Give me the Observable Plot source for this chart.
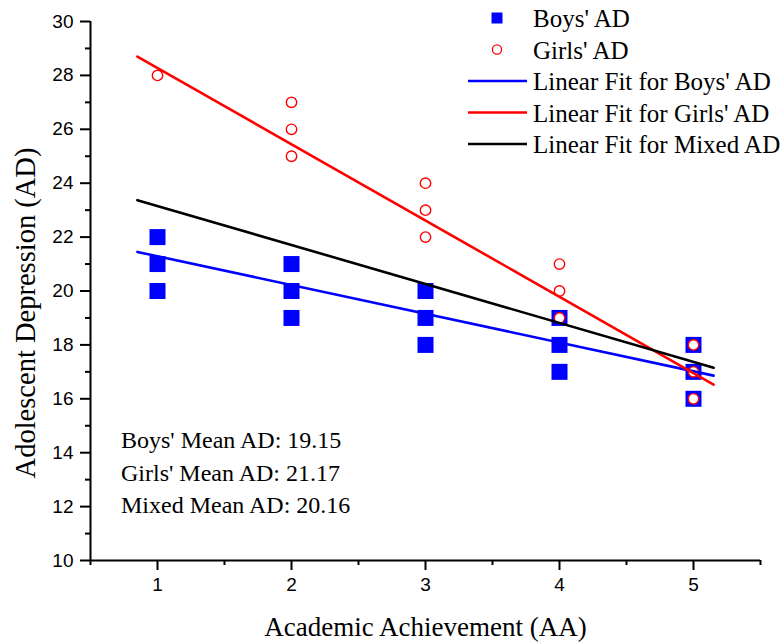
<!DOCTYPE html>
<html><head><meta charset="utf-8">
<script src="https://cdn.jsdelivr.net/npm/d3@7"></script>
<script src="https://cdn.jsdelivr.net/npm/@observablehq/plot@0.6"></script>
<style>html,body{margin:0;padding:0;background:#fff;} svg{display:block}</style>
</head><body><div id="chart"></div>
<script>
// ---- data ----
const boysX  = [1, 1, 1, 2, 2, 2, 3, 3, 3, 4, 4, 4, 5, 5, 5];
const boysAD = [22, 21, 20, 21, 20, 19, 20, 19, 18, 19, 18, 17, 18, 17, 16];
const girlsX  = [1, 2, 2, 2, 3, 3, 3, 4, 4, 4, 5, 5, 5];
const girlsAD = [28, 27, 26, 25, 24, 23, 22, 21, 20, 19, 18, 17, 16];
const fitX     = [0.85, 5.15];
const boysFit  = [21.45, 16.86];
const girlsFit = [28.70, 16.53];
const mixedFit = [23.37, 17.15];
const xTicks = [1, 2, 3, 4, 5];
const xMinor = [0.5, 1.5, 2.5, 3.5, 4.5, 5.5];
const yTicks = [10, 12, 14, 16, 18, 20, 22, 24, 26, 28, 30];
const yMinor = [11, 13, 15, 17, 19, 21, 23, 25, 27, 29];
const xTitle = "Academic Achievement (AA)";
const yTitle = "Adolescent Depression (AD)";
const legendLabels = ["Boys' AD", "Girls' AD", "Linear Fit for Boys' AD", "Linear Fit for Girls' AD", "Linear Fit for Mixed AD"];
const meanLabels = ["Boys' Mean AD: 19.15", "Girls' Mean AD: 21.17", "Mixed Mean AD: 20.16"];

const BLUE = "#0000ff", RED = "#ff0000";
const SERIF = "'Liberation Serif', 'Times New Roman', serif";
const SANS = "'Liberation Sans', Arial, sans-serif";

const boys = boysX.map((x, i) => ({x, y: boysAD[i]}));
const girls = girlsX.map((x, i) => ({x, y: girlsAD[i]}));
const fit = (arr) => fitX.map((x, i) => ({x, y: arr[i]}));

const W = 782, H = 644, mL = 90, mR = 22, mT = 21, mB = 84;

const chart = Plot.plot({
  width: W, height: H,
  marginLeft: mL, marginRight: mR, marginTop: mT, marginBottom: mB,
  style: {background: "#fff", overflow: "visible"},
  x: {domain: [0.5, 5.5]},
  y: {domain: [10, 30]},
  marks: [
    Plot.axisY({ticks: yTicks, tickSize: 10, tickPadding: 7, fontSize: 19, fontFamily: SANS, strokeWidth: 2, label: null, color: "#000", tickFormat: d => String(d)}),
    Plot.axisY({ticks: yMinor, tickSize: 5, tickFormat: () => "", strokeWidth: 2, label: null}),
    Plot.axisX({ticks: xTicks, tickSize: 10, tickPadding: 7, fontSize: 19, fontFamily: SANS, strokeWidth: 2, label: null, color: "#000", tickFormat: d => String(d)}),
    Plot.axisX({ticks: xMinor, tickSize: 5, tickFormat: () => "", strokeWidth: 2, label: null}),
    Plot.ruleX([0.5], {y1: 10, y2: 30, strokeWidth: 2}),
    Plot.ruleY([10], {x1: 0.5, x2: 5.5, strokeWidth: 2}),
    Plot.dot(boys, {x: "x", y: "y", symbol: "square", r: 9.03, fill: BLUE, stroke: "none"}),
    Plot.dot(girls, {x: "x", y: "y", r: 5.2, fill: "#fff", stroke: RED, strokeWidth: 1.4}),
    Plot.line(fit(boysFit), {x: "x", y: "y", stroke: BLUE, strokeWidth: 2.6}),
    Plot.line(fit(girlsFit), {x: "x", y: "y", stroke: RED, strokeWidth: 2.6}),
    Plot.line(fit(mixedFit), {x: "x", y: "y", stroke: "#000", strokeWidth: 2.6}),
    Plot.text([xTitle], {frameAnchor: "bottom", dy: 67, text: d => d, fontSize: 27, fontFamily: SERIF, textAnchor: "middle", lineAnchor: "middle", fill: "#000"}),
    Plot.text([yTitle], {frameAnchor: "left", dx: -65, dy: 22, text: d => d, rotate: -90, fontSize: 28.5, fontFamily: SERIF, textAnchor: "middle", lineAnchor: "middle", fill: "#000"})
  ]
});

document.getElementById("chart").appendChild(chart);

// ---- legend and annotations (layout overlay) ----
const svg = d3.select(chart);
const lg = svg.append("g").attr("font-family", SERIF).attr("font-size", 25).attr("fill", "#000").attr("text-anchor", "start");
const rowY = (i) => 18 + i * 31.5;
const symX = 497, lineX1 = 468, lineX2 = 527, textX = 533;
legendLabels.forEach((label, i) => {
  const y = rowY(i);
  if (i === 0) {
    lg.append("rect").attr("x", symX - 5.5).attr("y", y - 5.5).attr("width", 11).attr("height", 11).attr("fill", BLUE);
  } else if (i === 1) {
    lg.append("circle").attr("cx", symX).attr("cy", y).attr("r", 4.6).attr("fill", "#fff").attr("stroke", RED).attr("stroke-width", 1.3);
  } else {
    const c = [BLUE, RED, "#000"][i - 2];
    lg.append("line").attr("x1", lineX1).attr("x2", lineX2).attr("y1", y).attr("y2", y).attr("stroke", c).attr("stroke-width", 2.6);
  }
  lg.append("text").attr("x", textX).attr("y", y + 9).attr("text-anchor", "start").text(label);
});
const mg = svg.append("g").attr("font-family", SERIF).attr("font-size", 24).attr("fill", "#000").attr("text-anchor", "start");
meanLabels.forEach((t, i) => {
  mg.append("text").attr("x", 121).attr("y", 448 + i * 32.5).attr("text-anchor", "start").text(t);
});
</script>
</body></html>
